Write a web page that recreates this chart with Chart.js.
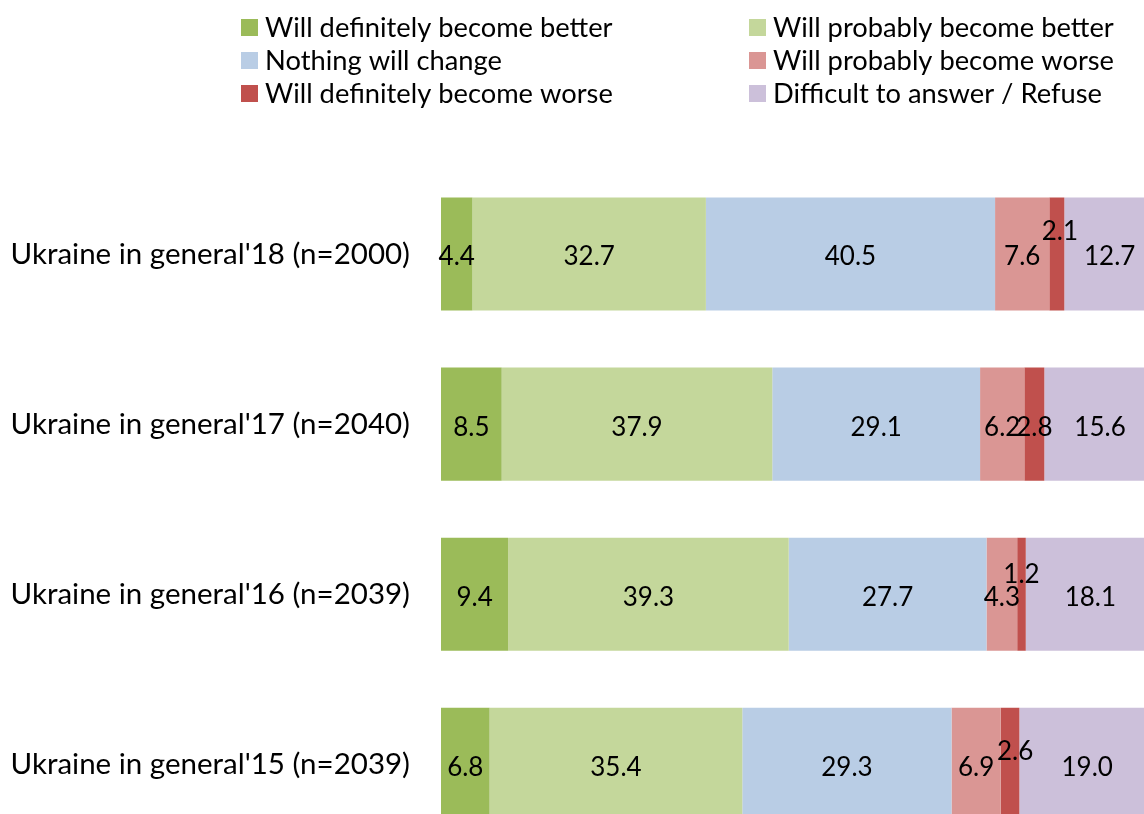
<!DOCTYPE html>
<html>
<head>
<meta charset="utf-8">
<script src="https://cdn.jsdelivr.net/npm/chart.js@4.4.1/dist/chart.umd.min.js"></script>
<style>
  html, body { margin: 0; padding: 0; background: #fff; overflow: hidden; }
  #wrap { width: 1144px; height: 814px; overflow: hidden; }
</style>
</head>
<body>
<!-- the original picture is cropped on the right and bottom, so the canvas is a bit bigger than the window -->
<div id="wrap"><canvas id="chart" width="1155" height="898"></canvas></div>
<script>
const categories = [
    "Ukraine in general'18 (n=2000)",
    "Ukraine in general'17 (n=2040)",
    "Ukraine in general'16 (n=2039)",
    "Ukraine in general'15 (n=2039)"
];
const seriesNames = [
    'Will definitely become better',
    'Will probably become better',
    'Nothing will change',
    'Will probably become worse',
    'Will definitely become worse',
    'Difficult to answer / Refuse'
];
const definitelyBetter = [4.4, 8.5, 9.4, 6.8];
const probablyBetter = [32.7, 37.9, 39.3, 35.4];
const nothingChange = [40.5, 29.1, 27.7, 29.3];
const probablyWorse = [7.6, 6.2, 4.3, 6.9];
const definitelyWorse = [2.1, 2.8, 1.2, 2.6];
const difficult = [12.7, 15.6, 18.1, 19.0];

const COLORS = ['#9BBB59', '#C4D79B', '#B9CDE5', '#DA9694', '#C0504D', '#CCC0DA'];
const FONT = 'Lato, "Open Sans", sans-serif';

// hand nudges for labels that Excel moved off the small segments  [dataset-row]: [dx, dy]
const labelNudge = { '4-0': [3, -25], '4-2': [0, -23], '4-3': [5, -16] };

const allValues = [definitelyBetter, probablyBetter, nothingChange, probablyWorse, definitelyWorse, difficult];

const valueLabels = {
    id: 'valueLabels',
    afterDatasetsDraw(chart) {
        const ctx = chart.ctx;
        ctx.save();
        ctx.font = '26px ' + FONT;
        ctx.fillStyle = '#000';
        ctx.textAlign = 'center';
        ctx.textBaseline = 'middle';
        chart.data.datasets.forEach((ds, di) => {
            chart.getDatasetMeta(di).data.forEach((bar, i) => {
                const p = bar.getCenterPoint();
                const n = labelNudge[di + '-' + i] || [0, 0];
                ctx.fillText(ds.data[i].toFixed(1), p.x + n[0], p.y + 3 + n[1]);
            });
        });
        ctx.restore();
    }
};

// two-column legend like the Excel original
const gridLegend = {
    id: 'gridLegend',
    afterDraw(chart) {
        const ctx = chart.ctx;
        const colX = [241, 749];
        const rowY = [27, 60, 93];
        ctx.save();
        ctx.font = '27.3px ' + FONT;
        ctx.textBaseline = 'middle';
        ctx.textAlign = 'left';
        chart.data.datasets.forEach((ds, di) => {
            const x = colX[di % 2];
            const y = rowY[Math.floor(di / 2)];
            ctx.fillStyle = ds.backgroundColor;
            ctx.fillRect(x, y - 8, 17, 17);
            ctx.fillStyle = '#000';
            ctx.fillText(ds.label, x + 24, y + 1);
        });
        ctx.restore();
    }
};

const data = {
    labels: categories,
    datasets: allValues.map((vals, k) => ({
        label: seriesNames[k],
        data: vals,
        backgroundColor: COLORS[k],
        borderWidth: 0,
        categoryPercentage: 1,
        barPercentage: 0.665
    }))
};

const config = {
    type: 'bar',
    data: data,
    options: {
        indexAxis: 'y',
        responsive: false,
        animation: false,
        layout: { padding: { top: 169, left: 0, right: 0, bottom: 0 } },
        scales: {
            x: {
                stacked: true,
                min: 0,
                max: 100,
                display: false
            },
            y: {
                stacked: true,
                grid: { display: false, drawTicks: false },
                border: { display: false },
                afterFit: scale => { scale.width = 441; },
                ticks: {
                    color: '#000',
                    padding: 31,
                    font: { family: FONT, size: 29.5 }
                }
            }
        },
        plugins: {
            legend: { display: false },
            tooltip: { enabled: false }
        }
    },
    plugins: [valueLabels, gridLegend]
};

new Chart(document.getElementById('chart').getContext('2d'), config);
</script>
</body>
</html>
